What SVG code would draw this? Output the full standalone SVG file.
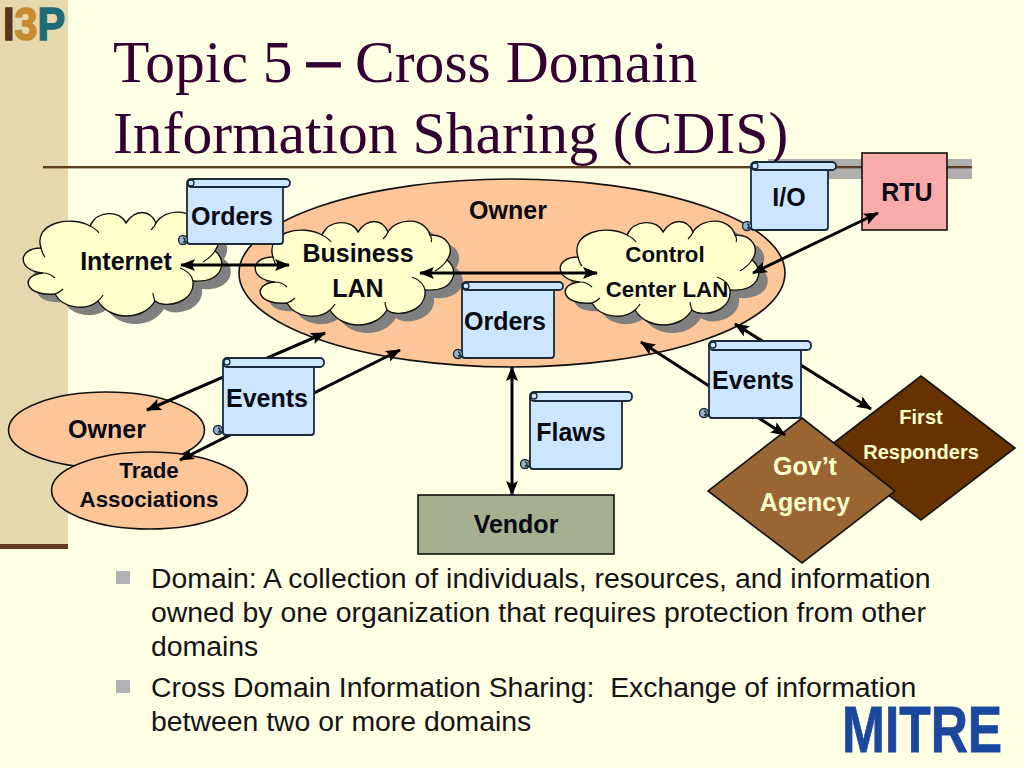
<svg xmlns="http://www.w3.org/2000/svg" width="1024" height="768" viewBox="0 0 1024 768">
<style>
text{font-family:"Liberation Sans",Arial,sans-serif;fill:#0a0a14}
.l{font-weight:bold;font-size:25px;text-anchor:middle}
.m{font-weight:bold;font-size:22.300px;text-anchor:middle}
.w{fill:#FFFFCC}
.title{font-family:"Liberation Serif","Times New Roman",serif;font-size:59.600px;fill:#330033}
.body{font-size:28.400px;fill:#141414;white-space:pre}
.n{stroke:#111;stroke-width:1.6}
.cl{fill:#FFFFCC;stroke:#111;stroke-width:1.4}
.in{fill:none;stroke:#111;stroke-width:1.2}
.sh{fill:#808080}
.or{fill:#FCC698}
.b{fill:#CCE6FF;stroke:#1a2a3a;stroke-width:1.8}
.c{fill:#99B3CC;stroke:#1a2a3a;stroke-width:1.4}
.cu{fill:none;stroke:#1a2a3a;stroke-width:1.3}
.a{stroke:#000;stroke-width:3;fill:none;marker-start:url(#h);marker-end:url(#h)}
</style>
<defs>
<marker id="h" markerUnits="userSpaceOnUse" markerWidth="16" markerHeight="12" refX="14" refY="6" orient="auto-start-reverse"><path d="M0,0 L15,6 L0,12 L3,6 Z" fill="#000"/></marker>
<path id="cloud" d="M18,60 C-8,58 -8,35 16,35 C8,10 45,2 65,13 C72,-3 95,-3 101,10 C110,-4 125,-4 131,10 C140,-5 168,-5 173,13 C193,13 197,28 190,38 C203,48 198,70 168,68 C170,90 140,96 130,88 C118,108 85,108 73,88 C62,98 38,96 30,81 C0,84 -6,62 18,60 Z"/>
<path id="cloudin" d="M18,60 C22,60 27,62 30,65 M16,35 C17,39 18,42 20,44 M65,13 C69,15 72,17 74,20 M131,10 C130,13 128,15 126,17 M173,13 C175,16 175,18 174,20 M190,38 C187,43 183,46 178,49 M168,68 C167,63 163,58 155,55 M130,88 C129,85 128,83 128,80 M73,88 C75,86 77,84 78,82 M30,81 C33,80 36,78 38,76"/>
</defs>
<rect id="background" width="1024" height="768" fill="#FFFFE5"/>
<rect id="sidebar" width="68" height="545" fill="#E4D8AC"/>
<rect id="sidebar-foot" y="544" width="68" height="5" fill="#663A1E"/>
<rect id="title-band" x="768" y="159" width="204" height="20" fill="#AFAFAF"/>
<rect id="title-rule" x="43" y="166" width="929" height="2.400" fill="#5E3D1E"/>
<g id="logo-i3p">
<text transform="translate(3,40) scale(0.9,1)" style="font-size:46px;font-weight:bold"><tspan style="fill:#5A3416;stroke:#5A3416;stroke-width:1.500px">I</tspan><tspan style="fill:#C98A30;stroke:#C98A30;stroke-width:1.500px">3</tspan><tspan style="fill:#1F6C78;stroke:#1F6C78;stroke-width:1.500px">P</tspan></text>
</g>
<g id="title">
<text class="title" x="113" y="82">Topic 5</text>
<text class="title" x="307" y="80" style="font-size:66px;font-weight:bold;stroke:#330033;stroke-width:0.800px">–</text>
<text class="title" x="355" y="82">Cross Domain</text>
<text class="title" x="113" y="153">Information Sharing (CDIS)</text>
</g>
<g id="owner-domain"><ellipse class="n or" cx="512" cy="273" rx="273" ry="94"/><text class="l" x="508" y="219">Owner</text></g>
<g id="internet"><use href="#cloud" x="34" y="221" class="sh"/><use href="#cloud" x="25" y="213" class="cl"/><use href="#cloudin" x="25" y="213" class="in"/><text class="l" x="126" y="270">Internet</text></g>
<g id="business-lan"><use href="#cloud" x="266" y="230" class="sh"/><use href="#cloud" x="257" y="222" class="cl"/><use href="#cloudin" x="257" y="222" class="in"/><text class="l" x="358" y="262">Business</text><text class="l" x="358" y="297">LAN</text></g>
<g id="control-center-lan"><use href="#cloud" x="571" y="230" class="sh"/><use href="#cloud" x="562" y="222" class="cl"/><use href="#cloudin" x="562" y="222" class="in"/><text class="m" x="665" y="262">Control</text><text class="m" x="667" y="297">Center LAN</text></g>
<g id="rtu"><rect class="n" x="862" y="153" width="85" height="77" fill="#F9AAAA"/><text class="l" x="907" y="201">RTU</text></g>
<g id="owner"><ellipse class="n or" cx="106.500" cy="430" rx="98" ry="38"/><text class="l" x="107" y="438">Owner</text></g>
<g id="trade-associations"><ellipse class="n or" cx="149.500" cy="490.500" rx="98" ry="38.500"/><text class="m" x="149" y="478">Trade</text><text class="m" x="149" y="507">Associations</text></g>
<g id="vendor"><rect class="n" x="418" y="495" width="196" height="59" fill="#A4B08F"/><text class="l" x="516" y="533">Vendor</text></g>
<g id="first-responders"><path class="n" d="M921,376 L1015,448 L921,520 L827,448 Z" fill="#663300"/><text class="m w" style="font-size:20px" x="921" y="424">First</text><text class="m w" style="font-size:20px" x="921" y="459">Responders</text></g>
<g id="govt-agency"><path class="n" d="M802,418 L895,491 L802,563 L708,491 Z" fill="#996633"/><text class="l w" x="805" y="475">Gov’t</text><text class="l w" x="805" y="511">Agency</text></g>
<g id="connectors">
<line class="a" x1="181" y1="265" x2="289" y2="265"/>
<line class="a" x1="420" y1="273" x2="597" y2="273"/>
<line class="a" x1="753" y1="273" x2="878" y2="213"/>
<line class="a" x1="147" y1="410" x2="325" y2="333"/>
<line class="a" x1="180" y1="460" x2="400" y2="350"/>
<line class="a" x1="512" y1="367" x2="512" y2="495"/>
<line class="a" x1="641" y1="342" x2="785" y2="435"/>
<line class="a" x1="735" y1="324" x2="871" y2="409"/>
</g>
<g id="scroll-orders-1"><rect class="b" x="187" y="183" width="96" height="61" rx="3"/><rect class="b" x="187" y="179" width="103" height="8" rx="4"/><circle class="cu" cx="191" cy="183" r="3"/><circle class="c" cx="183" cy="240" r="4.500"/><path class="cu" d="M183,238 a2,2 0 0 1 0,4 H187"/><text class="l" x="232" y="225">Orders</text></g>
<g id="scroll-orders-2"><rect class="b" x="462" y="286" width="92" height="72" rx="3"/><rect class="b" x="462" y="282" width="101" height="8" rx="4"/><circle class="cu" cx="466" cy="286" r="3"/><circle class="c" cx="458" cy="354" r="4.500"/><path class="cu" d="M458,352 a2,2 0 0 1 0,4 H462"/><text class="l" x="505" y="330">Orders</text></g>
<g id="scroll-io"><rect class="b" x="751" y="166" width="77" height="64" rx="3"/><rect class="b" x="751" y="162" width="85" height="8" rx="4"/><circle class="cu" cx="755" cy="166" r="3"/><circle class="c" cx="747" cy="226" r="4.500"/><path class="cu" d="M747,224 a2,2 0 0 1 0,4 H751"/><text class="l" x="789" y="206">I/O</text></g>
<g id="scroll-events-1"><rect class="b" x="223" y="362" width="91" height="73" rx="3"/><rect class="b" x="223" y="358" width="101" height="9" rx="4"/><circle class="cu" cx="227" cy="362" r="3"/><circle class="c" cx="218" cy="430" r="4.500"/><path class="cu" d="M218,428 a2,2 0 0 1 0,4 H223"/><text class="l" x="267" y="407">Events</text></g>
<g id="scroll-flaws"><rect class="b" x="530" y="396" width="92" height="73" rx="3"/><rect class="b" x="530" y="392" width="102" height="9" rx="4"/><circle class="cu" cx="534" cy="396" r="3"/><circle class="c" cx="525" cy="464" r="4.500"/><path class="cu" d="M525,462 a2,2 0 0 1 0,4 H530"/><text class="l" x="571" y="441">Flaws</text></g>
<g id="scroll-events-2"><rect class="b" x="709" y="345" width="92" height="73" rx="3"/><rect class="b" x="709" y="341" width="102" height="9" rx="4"/><circle class="cu" cx="713" cy="345" r="3"/><circle class="c" cx="704" cy="413" r="4.500"/><path class="cu" d="M704,411 a2,2 0 0 1 0,4 H709"/><text class="l" x="753" y="389">Events</text></g>
<g id="bullets">
<rect x="116" y="571" width="14" height="13" fill="#B2B2B2"/>
<rect x="116" y="680" width="14" height="13" fill="#B2B2B2"/>
<text class="body" x="151" y="588">Domain: A collection of individuals, resources, and information</text>
<text class="body" x="151" y="622">owned by one organization that requires protection from other</text>
<text class="body" x="151" y="656">domains</text>
<text class="body" x="151" y="697">Cross Domain Information Sharing:  Exchange of information</text>
<text class="body" x="151" y="731">between two or more domains</text>
</g>
<g id="logo-mitre"><text transform="translate(842,752) scale(0.805,1)" style="font-size:64px;font-weight:bold;fill:#1B479C;stroke:#1B479C;stroke-width:0.800px">MITRE</text></g>
</svg>
